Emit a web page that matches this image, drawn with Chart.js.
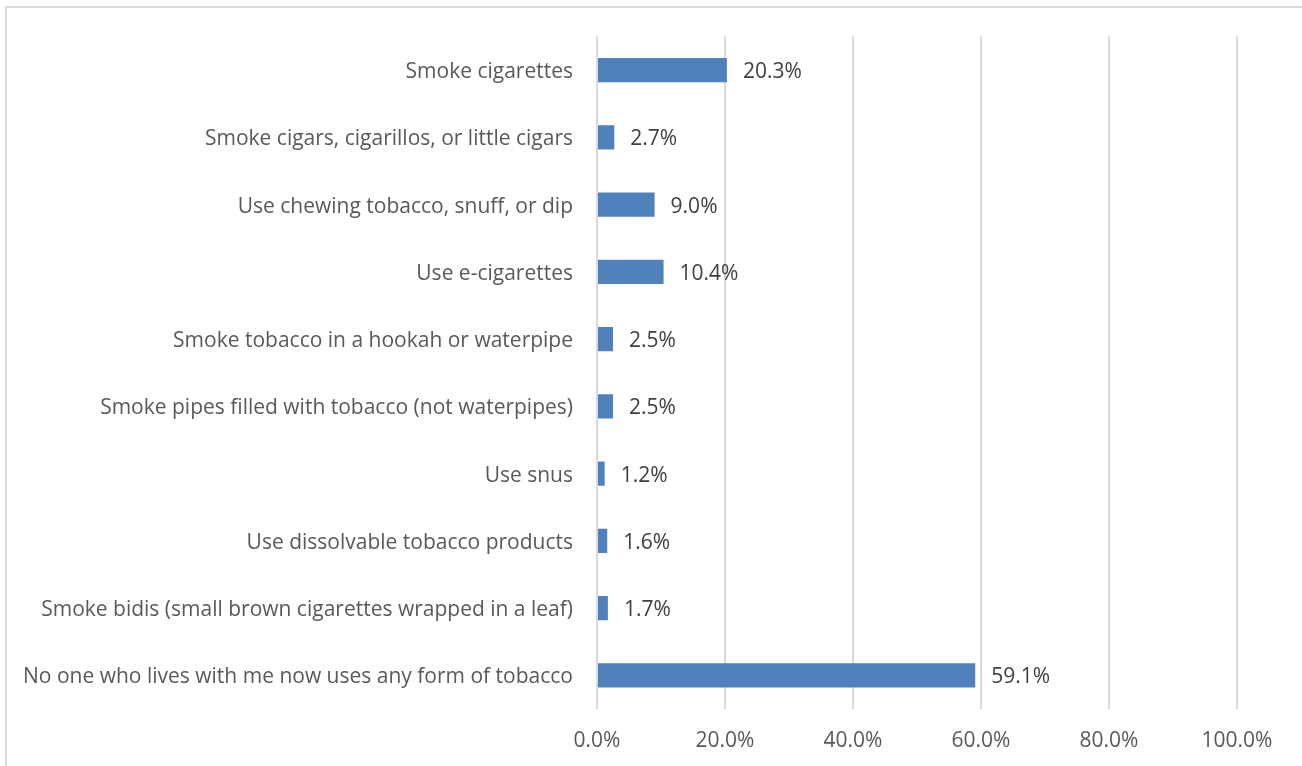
<!DOCTYPE html>
<html>
<head>
<meta charset="utf-8">
<script src="https://cdn.jsdelivr.net/npm/chart.js@4.4.1/dist/chart.umd.min.js"></script>
<style>
    html, body { margin: 0; padding: 0; background: #fff; overflow: hidden; }
    #frame { position: absolute; left: 5px; top: 6px; width: 1400px; height: 900px; border: 2px solid #d9d9d9; }
    #wrap { position: absolute; left: 0; top: 0; width: 1302px; height: 766px; }
</style>
</head>
<body>
<div id="frame"></div>
<div id="wrap"><canvas id="tobaccoChart"></canvas></div>
<script>
const categories = [
    'Smoke cigarettes',
    'Smoke cigars, cigarillos, or little cigars',
    'Use chewing tobacco, snuff, or dip',
    'Use e-cigarettes',
    'Smoke tobacco in a hookah or waterpipe',
    'Smoke pipes filled with tobacco (not waterpipes)',
    'Use snus',
    'Use dissolvable tobacco products',
    'Smoke bidis (small brown cigarettes wrapped in a leaf)',
    'No one who lives with me now uses any form of tobacco'
];
const percentValues = [20.3, 2.7, 9.0, 10.4, 2.5, 2.5, 1.2, 1.6, 1.7, 59.1];
const axisTicks = [0, 20, 40, 60, 80, 100];

const fontFamily = '"Open Sans", Lato, sans-serif';
const fontSize = 21;

// draws the value next to each bar
const barValueLabels = {
    id: 'barValueLabels',
    afterDatasetsDraw(chart) {
        const ctx = chart.ctx;
        const meta = chart.getDatasetMeta(0);
        ctx.save();
        ctx.font = `${fontSize}px ${fontFamily}`;
        ctx.fillStyle = '#404040';
        ctx.textAlign = 'left';
        ctx.textBaseline = 'middle';
        meta.data.forEach((bar, i) => {
            ctx.fillText(percentValues[i].toFixed(1) + '%', bar.x + 16, bar.y + 2);
        });
        ctx.restore();
    }
};

function generateChart() {
    const ctx = document.getElementById('tobaccoChart').getContext('2d');
    return new Chart(ctx, {
        type: 'bar',
        data: {
            labels: categories,
            datasets: [{
                data: percentValues,
                backgroundColor: '#4f81bd',
                borderWidth: 0,
                categoryPercentage: 0.36,
                barPercentage: 1.0
            }]
        },
        options: {
            indexAxis: 'y',
            responsive: true,
            maintainAspectRatio: false,
            animation: false,
            layout: { padding: { top: 36, right: 65, left: 0, bottom: 0 } },
            scales: {
                x: {
                    min: 0,
                    max: 100,
                    afterBuildTicks: scale => {
                        scale.ticks = axisTicks.map(v => ({ value: v }));
                    },
                    afterFit: scale => { scale.height = 766 - 709; },
                    grid: { color: '#d9d9d9', lineWidth: 2, drawTicks: false },
                    border: { display: false },
                    ticks: {
                        padding: 19,
                        color: '#595959',
                        font: { family: fontFamily, size: fontSize },
                        callback: v => v.toFixed(1) + '%'
                    }
                },
                y: {
                    afterFit: scale => { scale.width = 597; },
                    grid: { display: false, drawTicks: false },
                    border: { display: false },
                    ticks: {
                        padding: 24,
                        labelOffset: 2,
                        color: '#595959',
                        font: { family: fontFamily, size: fontSize }
                    }
                }
            },
            plugins: {
                legend: { display: false },
                tooltip: { enabled: false }
            }
        },
        plugins: [barValueLabels]
    });
}

generateChart();
</script>
</body>
</html>
